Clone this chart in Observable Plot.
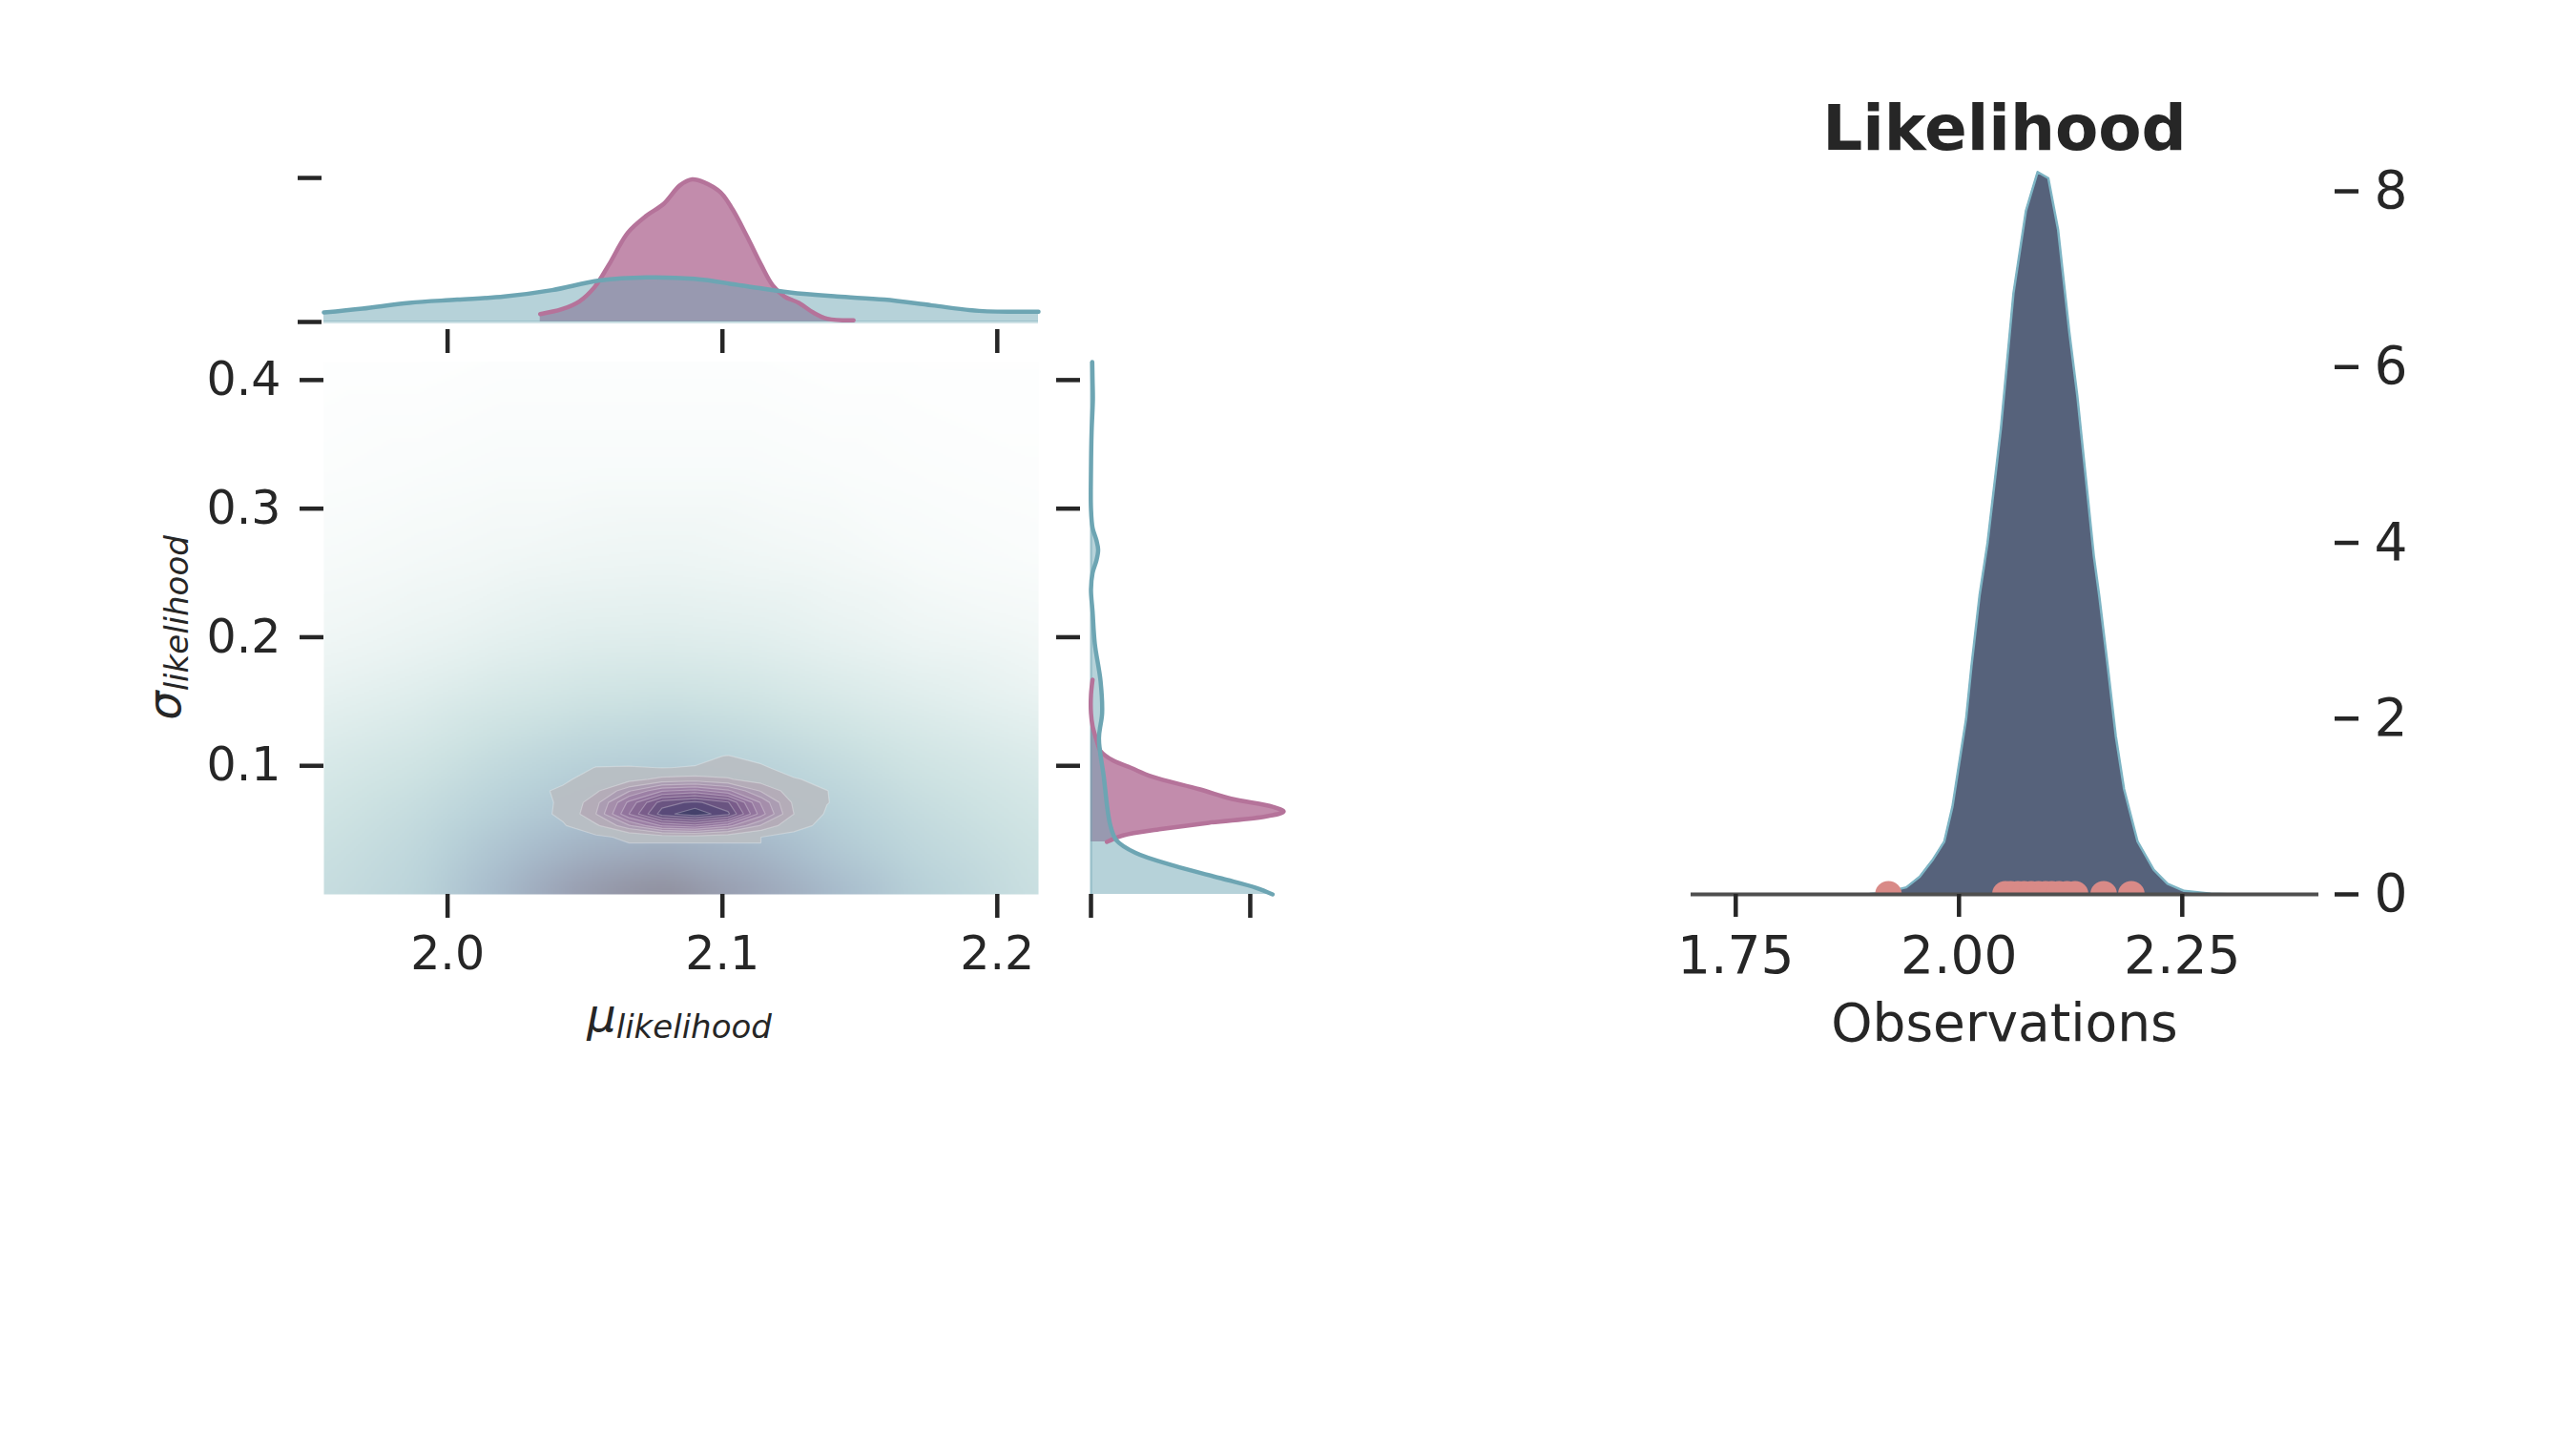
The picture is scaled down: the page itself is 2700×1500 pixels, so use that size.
<!DOCTYPE html>
<html><head><meta charset="utf-8">
<script src="https://cdn.jsdelivr.net/npm/d3@7"></script>
<script src="https://cdn.jsdelivr.net/npm/@observablehq/plot@0.6"></script>
<style>
html,body{margin:0;padding:0;background:#fff;overflow:hidden;}
#fig{position:relative;width:2700px;height:1500px;background:#fff;}
#fig svg{position:absolute;left:0;top:0;max-width:none;}
</style></head><body><div id="fig"></div>
<script>
// ---------------- DATA ----------------
const muTicks = [2.0, 2.1, 2.2];
const sigmaTicks = [0.1, 0.2, 0.3, 0.4];
const margTicks = [0, 1];
const obsTicks = [1.75, 2.00, 2.25];
const likTicks = [0, 2, 4, 6, 8];

// prior joint KDE (background shading), relative density
const bgMu = [1.955, 1.99, 2.02, 2.05, 2.08, 2.11, 2.14, 2.17, 2.215];
const bgSigma = [0.0, 0.03, 0.06, 0.09, 0.12, 0.16, 0.2, 0.26, 0.33, 0.414];
const bgDensity = [
  [0.45, 0.54, 0.73, 0.91, 1.00, 0.87, 0.73, 0.58, 0.42],
  [0.42, 0.51, 0.66, 0.78, 0.82, 0.76, 0.63, 0.52, 0.40],
  [0.38, 0.47, 0.58, 0.67, 0.70, 0.65, 0.57, 0.47, 0.36],
  [0.33, 0.41, 0.51, 0.59, 0.62, 0.58, 0.50, 0.41, 0.31],
  [0.27, 0.34, 0.43, 0.50, 0.53, 0.49, 0.42, 0.34, 0.25],
  [0.18, 0.24, 0.31, 0.36, 0.38, 0.35, 0.29, 0.23, 0.15],
  [0.11, 0.15, 0.20, 0.24, 0.25, 0.23, 0.18, 0.13, 0.09],
  [0.06, 0.08, 0.10, 0.12, 0.13, 0.11, 0.09, 0.06, 0.04],
  [0.03, 0.04, 0.05, 0.05, 0.05, 0.05, 0.04, 0.03, 0.02],
  [0.01, 0.01, 0.02, 0.02, 0.02, 0.02, 0.01, 0.01, 0.01]
];

// posterior joint KDE (contours), grid rows from top (high sigma) to bottom
const postMuRange = [2.024, 2.156];
const postSigmaRange = [0.121, 0.040];
const postGrid = [
  [0, 0, 0, 0, 0, 0, 0, 0, 0, 0, 0],
  [0, 0.002, 0.004, 0.009, 0.014, 0.045, 0.075, 0.03, 0.003, 0.001, 0],
  [0.002, 0.007, 0.075, 0.08, 0.068, 0.075, 0.13, 0.09, 0.015, 0.005, 0.001],
  [0.006, 0.05, 0.12, 0.16, 0.23, 0.25, 0.21, 0.15, 0.08, 0.035, 0.004],
  [0.04, 0.09, 0.18, 0.37, 0.53, 0.57, 0.48, 0.29, 0.14, 0.072, 0.015],
  [0.025, 0.088, 0.27, 0.56, 0.82, 0.88, 0.79, 0.45, 0.18, 0.074, 0.02],
  [0.02, 0.095, 0.3, 0.62, 0.9, 0.979, 0.88, 0.5, 0.2, 0.055, 0.012],
  [0.012, 0.058, 0.18, 0.37, 0.55, 0.6, 0.49, 0.29, 0.115, 0.035, 0.008],
  [0.004, 0.015, 0.045, 0.095, 0.14, 0.152, 0.12, 0.07, 0.031, 0.01, 0.003]
];
const postLevels = [0.07, 0.2, 0.3, 0.38, 0.46, 0.54, 0.62, 0.7, 0.78, 0.86, 0.93];

// top marginal (mu)
const topPostMu = [2.0337, 2.0415, 2.048, 2.0535, 2.0587, 2.0656, 2.0725, 2.0786, 2.0846, 2.089, 2.0933, 2.0993, 2.1036, 2.1088, 2.114, 2.1183, 2.1226, 2.1278, 2.133, 2.1382, 2.1477];
const topPostDens = [0.055, 0.088, 0.144, 0.243, 0.398, 0.62, 0.74, 0.82, 0.95, 0.99, 0.97, 0.90, 0.785, 0.60, 0.40, 0.254, 0.177, 0.133, 0.066, 0.022, 0.011];
const topPriorMu = [1.955, 1.969, 1.986, 2.0035, 2.0207, 2.038, 2.0553, 2.0725, 2.0898, 2.107, 2.1244, 2.1416, 2.1589, 2.1762, 2.1934, 2.215];
const topPriorDens = [0.066, 0.093, 0.133, 0.155, 0.177, 0.221, 0.288, 0.31, 0.299, 0.254, 0.206, 0.177, 0.155, 0.115, 0.077, 0.071];

// right marginal (sigma)
const rightPostSigma = [0.167, 0.155, 0.141, 0.131, 0.12, 0.1115, 0.104, 0.0985, 0.0917, 0.0818, 0.0744, 0.0682, 0.0644, 0.0607, 0.0557, 0.0508, 0.0458, 0.0408];
const rightPostDens = [0.01, 0.0, 0.0, 0.01, 0.035, 0.06, 0.14, 0.25, 0.38, 0.68, 0.88, 1.14, 1.21, 1.1, 0.74, 0.44, 0.2, 0.1];
const rightPriorSigma = [0.414, 0.40, 0.385, 0.36, 0.33, 0.30, 0.285, 0.275, 0.268, 0.26, 0.25, 0.237, 0.22, 0.195, 0.166, 0.141, 0.1213, 0.0917, 0.0545, 0.042, 0.0322, 0.0223, 0.0124, 0.005, 0.0];
const rightPriorDens = [0.008, 0.01, 0.012, 0.004, 0.0, 0.0, 0.01, 0.035, 0.045, 0.035, 0.01, 0.0, 0.01, 0.024, 0.06, 0.07, 0.05, 0.08, 0.12, 0.16, 0.28, 0.52, 0.82, 1.04, 1.14];

// likelihood panel
const likX = [1.88, 1.90, 1.9165, 1.941, 1.956, 1.971, 1.9835, 1.9927, 1.9988, 2.008, 2.014, 2.023, 2.032, 2.047, 2.061, 2.075, 2.088, 2.100, 2.111, 2.1235, 2.1325, 2.1418, 2.151, 2.157, 2.1665, 2.1756, 2.1848, 2.2, 2.218, 2.2335, 2.252, 2.282, 2.31];
const likDens = [0, 0.005, 0.02, 0.08, 0.2, 0.4, 0.6, 1.0, 1.4, 2.0, 2.6, 3.4, 4.0, 5.31, 6.84, 7.78, 8.22, 8.15, 7.56, 6.4, 5.67, 4.76, 3.85, 3.4, 2.6, 1.8, 1.2, 0.6, 0.28, 0.12, 0.04, 0.008, 0];
const observations = [1.921, 2.052, 2.058, 2.066, 2.073, 2.081, 2.089, 2.097, 2.104, 2.112, 2.121, 2.130, 2.162, 2.193];

// ---------------- STYLES ----------------
const INK = "#262626";
const PINK = "#b5739a";
const TEAL = "#6da5b3";
const FONT = "DejaVu Sans";
const TICKW = 4.5;
const W = 2700, H = 1500;
const bgStops = [0, 0.1, 0.25, 0.4, 0.55, 0.7, 0.85, 1];
const bgColors = ["#ffffff", "#f1f7f6", "#dfedec", "#cde2e2", "#b9d2d9", "#a8bccc", "#9ba3b6", "#8d8a97"];
const postColors = ["#b8bec3", "#b3abb7", "#ab9bb1", "#a48dab", "#9b80a4", "#91739c", "#866792", "#785c89", "#695381", "#584a78", "#43406a"];

const fig = document.getElementById("fig");
const baseStyle = (fs) => ({fontFamily: FONT, fontSize: fs + "px", color: INK, background: "transparent", overflow: "visible"});

// frames
const mainF = {left: 339, right: 1088, top: 379, bottom: 937};
const topF = {left: 339, right: 1088, top: 178.5, bottom: 337};
const rightF = {left: 1143, right: 1355, top: 379, bottom: 937};
const likF = {left: 1772, right: 2430, top: 142, bottom: 937};
const margins = f => ({marginLeft: f.left, marginRight: W - f.right, marginTop: f.top, marginBottom: H - f.bottom});

// ---------- main joint panel ----------
const bgPoints = [];
bgSigma.forEach((s, i) => bgMu.forEach((m, j) => bgPoints.push({mu: m, sigma: s, d: bgDensity[i][j]})));

const mainPlot = Plot.plot({
  width: W, height: H, ...margins(mainF),
  style: baseStyle(49),
  x: {domain: [1.955, 2.215]},
  y: {domain: [0, 0.414]},
  color: {type: "linear", domain: bgStops, range: bgColors},
  marks: [
    Plot.raster(bgPoints, {x: "mu", y: "sigma", fill: "d", interpolate: "barycentric",
      x1: 1.955, x2: 2.215, y1: 0.414, y2: 0, pixelSize: 2, blur: 7}),
    Plot.axisX({ticks: muTicks, tickFormat: ".1f", tickSize: 25, tickPadding: 19, strokeWidth: TICKW, label: null}),
    Plot.axisY({ticks: sigmaTicks, tickFormat: ".1f", tickSize: 25, tickPadding: 20, strokeWidth: TICKW, label: null})
  ]
});
fig.appendChild(mainPlot);

const contourPlot = Plot.plot({
  width: W, height: H, ...margins(mainF),
  style: baseStyle(49),
  x: {domain: [1.955, 2.215], axis: null},
  y: {domain: [0, 0.414], axis: null},
  color: {type: "linear", domain: postLevels, range: postColors},
  marks: [
    Plot.contour(postGrid.flat(), {width: postGrid[0].length, height: postGrid.length,
      x1: postMuRange[0], x2: postMuRange[1], y1: postSigmaRange[0], y2: postSigmaRange[1],
      fill: Plot.identity, thresholds: postLevels, fillOpacity: 0.95,
      stroke: "#ffffff", strokeOpacity: 0.28, strokeWidth: 1.2})
  ]
});
fig.appendChild(contourPlot);

// axis labels (math style)
const ms = d3.select(mainPlot);
const xl = ms.append("text").attr("x", 712).attr("y", 1081).attr("text-anchor", "middle")
  .attr("font-family", FONT).attr("fill", INK).attr("font-style", "italic");
xl.append("tspan").attr("font-size", 48).text("μ");
xl.append("tspan").attr("font-size", 34).attr("dy", 7).text("likelihood");
const yl = ms.append("text").attr("transform", "translate(189,658) rotate(-90)").attr("text-anchor", "middle")
  .attr("font-family", FONT).attr("fill", INK).attr("font-style", "italic");
yl.append("tspan").attr("font-size", 48).text("σ");
yl.append("tspan").attr("font-size", 34).attr("dy", 8).text("likelihood");

// ---------- top marginal ----------
const topPost = topPostMu.map((m, i) => ({mu: m, d: topPostDens[i]}));
const topPrior = topPriorMu.map((m, i) => ({mu: m, d: topPriorDens[i]}));
const topPlot = Plot.plot({
  width: W, height: H, ...margins(topF),
  style: baseStyle(49),
  x: {domain: [1.955, 2.215]},
  y: {domain: [0, 1.05]},
  marks: [
    Plot.areaY(topPost, {x: "mu", y: "d", fill: PINK, fillOpacity: 0.82, curve: "catmull-rom"}),
    Plot.areaY(topPrior, {x: "mu", y: "d", fill: TEAL, fillOpacity: 0.5, curve: "catmull-rom"}),
    Plot.ruleY([0], {stroke: TEAL, strokeOpacity: 0.35, strokeWidth: 3}),
    Plot.lineY(topPost, {x: "mu", y: "d", stroke: PINK, strokeWidth: 4.5, curve: "catmull-rom"}),
    Plot.lineY(topPrior, {x: "mu", y: "d", stroke: TEAL, strokeWidth: 4.5, curve: "catmull-rom"}),
    Plot.axisY({ticks: margTicks, tickFormat: () => "", tickSize: 25, dx: -2, strokeWidth: TICKW, label: null}),
    Plot.axisX({ticks: muTicks, tickFormat: () => "", tickSize: 25, dy: 8, strokeWidth: TICKW, label: null})
  ]
});
fig.appendChild(topPlot);

// ---------- right marginal ----------
const rightPost = rightPostSigma.map((s, i) => ({sigma: s, d: rightPostDens[i]}));
const rightPrior = rightPriorSigma.map((s, i) => ({sigma: s, d: rightPriorDens[i]}));
const rightPlot = Plot.plot({
  width: W, height: H, ...margins(rightF),
  style: baseStyle(49),
  x: {domain: [0, 1.27]},
  y: {domain: [0, 0.414]},
  marks: [
    Plot.areaX(rightPost, {y: "sigma", x: "d", fill: PINK, fillOpacity: 0.82, curve: "catmull-rom"}),
    Plot.areaX(rightPrior, {y: "sigma", x: "d", fill: TEAL, fillOpacity: 0.5, curve: "catmull-rom"}),
    Plot.ruleX([0], {stroke: TEAL, strokeOpacity: 0.35, strokeWidth: 3}),
    Plot.lineX(rightPost, {y: "sigma", x: "d", stroke: PINK, strokeWidth: 4.5, curve: "catmull-rom"}),
    Plot.lineX(rightPrior, {y: "sigma", x: "d", stroke: TEAL, strokeWidth: 4.5, curve: "catmull-rom"}),
    Plot.axisY({ticks: sigmaTicks, tickFormat: () => "", tickSize: 25, dx: -11, strokeWidth: TICKW, label: null}),
    Plot.axisX({ticks: margTicks, tickFormat: () => "", tickSize: 25, strokeWidth: TICKW, label: null})
  ]
});
fig.appendChild(rightPlot);

// ---------- likelihood panel ----------
const lik = likX.map((x, i) => ({x, d: likDens[i]}));
const likPlot = Plot.plot({
  width: W, height: H, ...margins(likF),
  style: baseStyle(55),
  x: {domain: [1.70, 2.403]},
  y: {domain: [0, 8.63]},
  marks: [
    Plot.areaY(lik, {x: "x", y: "d", fill: "#56627b"}),
    Plot.lineY(lik, {x: "x", y: "d", stroke: "#7db4c4", strokeWidth: 2.5}),
    Plot.dot(observations, {x: d => d, y: 0, r: 14, fill: "#d98a87", clip: true}),
    Plot.ruleY([0], {stroke: "#4f4f4f", strokeWidth: 4}),
    Plot.axisX({ticks: obsTicks, tickFormat: ".2f", tickSize: 24, tickPadding: 19, strokeWidth: TICKW, label: null}),
    Plot.axisY({anchor: "right", ticks: likTicks, tickFormat: "d", tickSize: 25, tickPadding: 17, dx: 16, strokeWidth: TICKW, label: null})
  ]
});
fig.appendChild(likPlot);
const ls = d3.select(likPlot);
ls.append("text").attr("x", 2101).attr("y", 157).attr("text-anchor", "middle").attr("font-family", FONT)
  .attr("font-size", 66).attr("font-weight", "bold").attr("fill", INK).text("Likelihood");
ls.append("text").attr("x", 2101).attr("y", 1091).attr("text-anchor", "middle").attr("font-family", FONT)
  .attr("font-size", 55).attr("fill", INK).text("Observations");
</script></body></html>
